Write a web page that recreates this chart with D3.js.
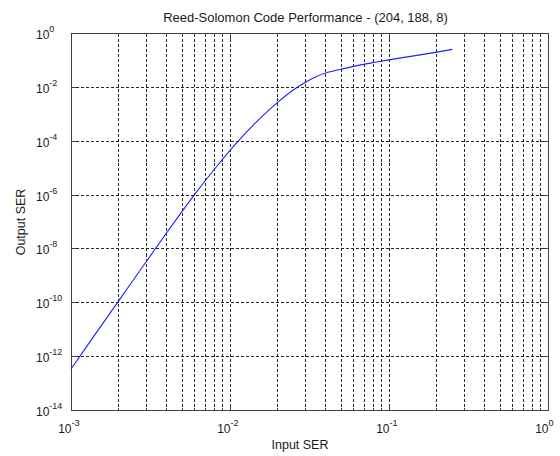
<!DOCTYPE html>
<html>
<head>
<meta charset="utf-8">
<script src="https://cdn.jsdelivr.net/npm/d3@7"></script>
<style>
  html, body { margin: 0; padding: 0; background: #fff; }
  svg { display: block; }
  text { font-family: "Liberation Sans", Arial, sans-serif; fill: #1a1a1a; }
</style>
</head>
<body>
<svg id="chart" width="560" height="456"></svg>
<script>
// Symbol error rate at the decoder input vs. at the decoder output, RS(204,188) code, t = 8
const inputSER = [0.001, 0.0014, 0.002, 0.0028, 0.004, 0.0059, 0.008, 0.011, 0.014,
                  0.02, 0.025, 0.03, 0.035, 0.04, 0.05, 0.06, 0.08, 0.1, 0.14, 0.2, 0.25];
const outputSER = [3.47e-13, 6.0e-12, 1.2e-10, 2.04e-9, 3.98e-8, 9.3e-7, 9.3e-6, 8.7e-5, 3.98e-4,
                   2.82e-3, 7.94e-3, 1.58e-2, 2.55e-2, 3.42e-2, 4.73e-2, 6.03e-2, 8.32e-2, 0.105, 0.145, 0.204, 0.257];

// Axis ticks: decades shown on each axis
const xTickExps = [-3, -2, -1, 0];
const yTickExps = [0, -2, -4, -6, -8, -10, -12, -14];

const titleText = "Reed-Solomon Code Performance - (204, 188, 8)";
const xLabelText = "Input SER";
const yLabelText = "Output SER";

const svg = d3.select("#chart");
const plot = { left: 71, right: 548, top: 33.5, bottom: 410.5 };

const x = d3.scaleLog().domain([1e-3, 1]).range([plot.left, plot.right]);
const y = d3.scaleLog().domain([1e-14, 1]).range([plot.bottom, plot.top]);

const snap = v => Math.round(v - 0.5) + 0.5;

// Grid: every x value 1..9 × decade, every second y decade
const xGrid = [];
for (let e = -3; e < 0; e++) for (let m = 1; m <= 9; m++) {
  const v = m * Math.pow(10, e);
  if (!(e === -3 && m === 1)) xGrid.push(v);
}
const yGrid = yTickExps.filter(e => e !== 0 && e !== -14).map(e => Math.pow(10, e));

const grid = svg.append("g")
  .attr("stroke", "#262626")
  .attr("stroke-width", 1)
  .attr("stroke-dasharray", "3,2")
  .attr("shape-rendering", "crispEdges");

grid.selectAll("line.gx").data(xGrid).join("line")
  .attr("class", "gx")
  .attr("x1", d => snap(x(d))).attr("x2", d => snap(x(d)))
  .attr("y1", plot.top).attr("y2", plot.bottom);

grid.selectAll("line.gy").data(yGrid).join("line")
  .attr("class", "gy")
  .attr("x1", plot.left).attr("x2", plot.right)
  .attr("y1", d => snap(y(d))).attr("y2", d => snap(y(d)));

// Inward ticks on all four sides
const ticks = svg.append("g")
  .attr("stroke", "#404040")
  .attr("stroke-width", 1)
  .attr("shape-rendering", "crispEdges");

const xTickAll = xGrid.concat([1e-3, 1]);
xTickAll.forEach(v => {
  const isMajor = Math.abs(Math.log10(v) - Math.round(Math.log10(v))) < 1e-9;
  const len = isMajor ? 5 : 3;
  const px = snap(x(v));
  ticks.append("line").attr("x1", px).attr("x2", px)
    .attr("y1", plot.bottom).attr("y2", plot.bottom - len);
  ticks.append("line").attr("x1", px).attr("x2", px)
    .attr("y1", plot.top).attr("y2", plot.top + len);
});
yTickExps.forEach(e => {
  const py = snap(y(Math.pow(10, e)));
  ticks.append("line").attr("x1", plot.left).attr("x2", plot.left + 5).attr("y1", py).attr("y2", py);
  ticks.append("line").attr("x1", plot.right).attr("x2", plot.right - 5).attr("y1", py).attr("y2", py);
});

// Axes frame
svg.append("rect")
  .attr("x", plot.left).attr("y", plot.top)
  .attr("width", plot.right - plot.left).attr("height", plot.bottom - plot.top)
  .attr("fill", "none").attr("stroke", "#404040").attr("stroke-width", 1)
  .attr("shape-rendering", "crispEdges");

// Data curve
const line = d3.line()
  .x((d, i) => x(inputSER[i]))
  .y((d, i) => y(outputSER[i]))
  .curve(d3.curveCatmullRom.alpha(0.5));

svg.append("path")
  .datum(inputSER)
  .attr("d", line)
  .attr("fill", "none")
  .attr("stroke", "#1f1fff")
  .attr("stroke-width", 1.1);

// Tick labels as 10 with a superscript exponent
function powerLabel(g, xPos, yPos, exp) {
  const t = g.append("text").attr("x", xPos).attr("y", yPos)
    .attr("text-anchor", "start").style("font-size", "12px");
  t.append("tspan").text("10");
  t.append("tspan").attr("dy", -7).style("font-size", "9px").text(String(exp));
  return t;
}

const labels = svg.append("g");
yTickExps.forEach(e => {
  powerLabel(labels, 36, y(Math.pow(10, e)) + 5.5, e);
});
xTickExps.forEach(e => {
  const t = powerLabel(labels, 0, 433, e);
  // the "10" ends at the tick position
  const baseW = t.select("tspan").node().getComputedTextLength();
  t.attr("x", x(Math.pow(10, e)) - baseW + 0.5);
});

// Title and axis labels
svg.append("text")
  .attr("x", 305.5).attr("y", 22)
  .attr("text-anchor", "middle")
  .style("font-size", "13px")
  .text(titleText);

svg.append("text")
  .attr("x", 300).attr("y", 449)
  .attr("text-anchor", "middle")
  .style("font-size", "12.5px")
  .text(xLabelText);

svg.append("text")
  .attr("transform", "translate(25,222) rotate(-90)")
  .attr("text-anchor", "middle")
  .style("font-size", "12.5px")
  .text(yLabelText);
</script>
</body>
</html>
